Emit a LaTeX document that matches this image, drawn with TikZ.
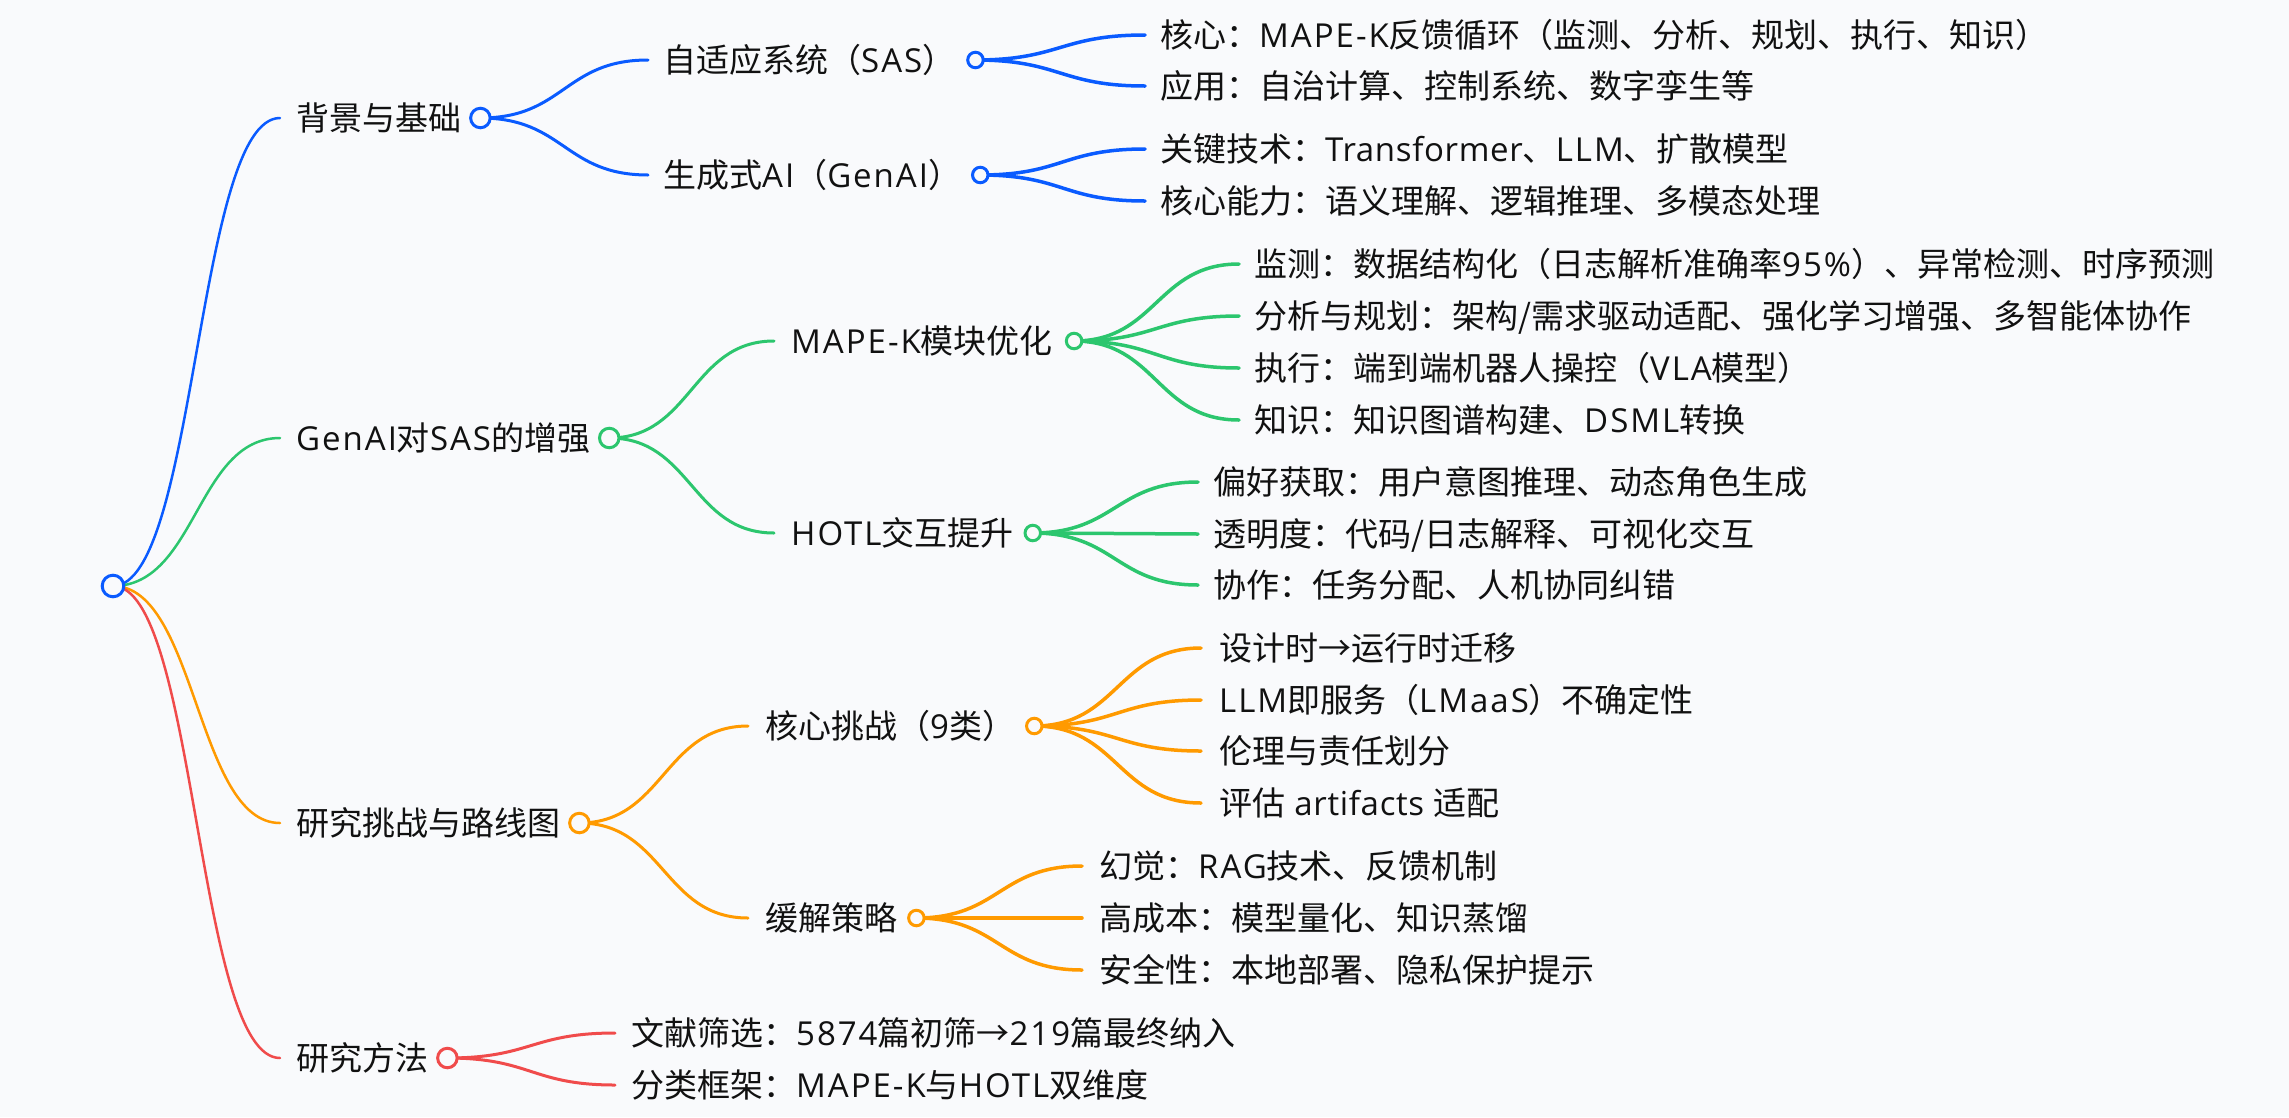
\documentclass[tikz,border=0pt]{standalone}
\usepackage{fontspec}
\setmainfont{Noto Sans CJK SC}
\newfontfamily\latfont[Scale=1.0,LetterSpace=6.0]{Open Sans}
\newfontfamily\latlfont[Scale=1.0,LetterSpace=2.0]{Open Sans}
\newcommand\lat[1]{{\latfont #1}}
\newcommand\latl[1]{{\latlfont #1}}
\usetikzlibrary{calc}
\pgfdeclarelayer{bglayer}
\pgfdeclarelayer{linklayer}
\pgfsetlayers{bglayer,linklayer,main}
\definecolor{bgc}{HTML}{F9FAFC}
\definecolor{cblue}{HTML}{0A5BFF}
\definecolor{cgreen}{HTML}{2CC66E}
\definecolor{corange}{HTML}{FF9A00}
\definecolor{cred}{HTML}{F04B4B}
\definecolor{ctext}{HTML}{111111}
\tikzset{
  txt/.style={anchor=west, inner sep=0pt, text=ctext, font=\fontsize{33}{40}\selectfont, text height=29pt, text depth=4pt},
  dotroot/.style={circle, line width=3pt, fill=bgc, inner sep=0pt, minimum size=21.6pt},
  dotone/.style={circle, line width=3pt, fill=bgc, inner sep=0pt, minimum size=19.5pt},
  dottwo/.style={circle, line width=3pt, fill=bgc, inner sep=0pt, minimum size=15.5pt},
  lkone/.style={line width=2.5pt, line cap=round},
  lktwo/.style={line width=3pt, line cap=round},
  lkthree/.style={line width=3.5pt, line cap=round},
}
\newcommand\mmlink[3]{\draw[#1] let \p1=(#2), \p2=(#3) in (\p1) .. controls ({0.5*\x1+0.5*\x2},\y1) and ({0.5*\x1+0.5*\x2},\y2) .. (\p2);}
\begin{document}
\begin{tikzpicture}[x=1pt,y=-1pt]
\begin{pgfonlayer}{bglayer}
\fill[bgc] (0,0) rectangle (2289,1117);
\end{pgfonlayer}
\useasboundingbox (0,0) rectangle (2289,1117);

% root
\node[dotroot, draw=cblue] (R) at (113,586) {};

% level 1
\node[txt] (A) at (296,118) {背景与基础};
\node[dotone, draw=cblue] (Ac) at ([xshift=19pt]A.east) {};
\coordinate (Ae) at ([xshift=-16pt]A.west);
\node[txt] (B) at (296,438) {\lat{GenAI}对\lat{SAS}的增强};
\node[dotone, draw=cgreen] (Bc) at ([xshift=19pt]B.east) {};
\coordinate (Be) at ([xshift=-16pt]B.west);
\node[txt] (C) at (296,823) {研究挑战与路线图};
\node[dotone, draw=corange] (Cc) at ([xshift=19pt]C.east) {};
\coordinate (Ce) at ([xshift=-16pt]C.west);
\node[txt] (D) at (296,1058) {研究方法};
\node[dotone, draw=cred] (Dc) at ([xshift=19pt]D.east) {};
\coordinate (De) at ([xshift=-16pt]D.west);

% level 2
\node[txt] (A1) at (663,60) {自适应系统（\lat{SAS}）};
\node[dottwo, draw=cblue] (A1c) at ([xshift=20pt]A1.east) {};
\coordinate (A1e) at ([xshift=-15pt]A1.west);
\node[txt] (A2) at (663,175) {生成式\lat{AI}（\lat{GenAI}）};
\node[dottwo, draw=cblue] (A2c) at ([xshift=19pt]A2.east) {};
\coordinate (A2e) at ([xshift=-15pt]A2.west);

\node[txt] (B1) at (791,341) {\lat{MAPE-K}模块优化};
\node[dottwo, draw=cgreen] (B1c) at ([xshift=21pt]B1.east) {};
\coordinate (B1e) at ([xshift=-17pt]B1.west);
\node[txt] (B2) at (791,533) {\lat{HOTL}交互提升};
\node[dottwo, draw=cgreen] (B2c) at ([xshift=19pt]B2.east) {};
\coordinate (B2e) at ([xshift=-17pt]B2.west);

\node[txt] (C1) at (765,726) {核心挑战（\lat{9}类）};
\node[dottwo, draw=corange] (C1c) at ([xshift=19pt]C1.east) {};
\coordinate (C1e) at ([xshift=-17pt]C1.west);
\node[txt] (C2) at (765,918) {缓解策略};
\node[dottwo, draw=corange] (C2c) at ([xshift=19pt]C2.east) {};
\coordinate (C2e) at ([xshift=-17pt]C2.west);

\node[txt] (D1) at (631,1033) {文献筛选：\lat{5874}篇初筛→\lat{219}篇最终纳入};
\coordinate (D1e) at ([xshift=-16pt]D1.west);
\node[txt] (D2) at (631,1085) {分类框架：\lat{MAPE-K}与\lat{HOTL}双维度};
\coordinate (D2e) at ([xshift=-16pt]D2.west);

% level 3
\node[txt] (A1a) at (1160,35) {核心：\lat{MAPE-K}反馈循环（监测、分析、规划、执行、知识）};
\coordinate (A1ae) at ([xshift=-15pt]A1a.west);
\node[txt] (A1b) at (1160,86) {应用：自治计算、控制系统、数字孪生等};
\coordinate (A1be) at ([xshift=-15pt]A1b.west);
\node[txt] (A2a) at (1160,149) {关键技术：\latl{Transformer}、\lat{LLM}、扩散模型};
\coordinate (A2ae) at ([xshift=-15pt]A2a.west);
\node[txt] (A2b) at (1160,201) {核心能力：语义理解、逻辑推理、多模态处理};
\coordinate (A2be) at ([xshift=-15pt]A2b.west);

\node[txt] (B1a) at (1254,264) {监测：数据结构化（日志解析准确率\lat{95\%}）、异常检测、时序预测};
\coordinate (B1ae) at ([xshift=-15pt]B1a.west);
\node[txt] (B1b) at (1254,316) {分析与规划：架构/需求驱动适配、强化学习增强、多智能体协作};
\coordinate (B1be) at ([xshift=-15pt]B1b.west);
\node[txt] (B1cc) at (1254,368) {执行：端到端机器人操控（\lat{VLA}模型）};
\coordinate (B1ce) at ([xshift=-15pt]B1cc.west);
\node[txt] (B1d) at (1254,420) {知识：知识图谱构建、\lat{DSML}转换};
\coordinate (B1de) at ([xshift=-15pt]B1d.west);

\node[txt] (B2a) at (1213,482) {偏好获取：用户意图推理、动态角色生成};
\coordinate (B2ae) at ([xshift=-15pt]B2a.west);
\node[txt] (B2b) at (1213,534) {透明度：代码/日志解释、可视化交互};
\coordinate (B2be) at ([xshift=-15pt]B2b.west);
\node[txt] (B2cc) at (1213,585) {协作：任务分配、人机协同纠错};
\coordinate (B2ce) at ([xshift=-15pt]B2cc.west);

\node[txt] (C1a) at (1219,648) {设计时→运行时迁移};
\coordinate (C1ae) at ([xshift=-18pt]C1a.west);
\node[txt] (C1b) at (1219,700) {\lat{LLM}即服务（\lat{LMaaS}）不确定性};
\coordinate (C1be) at ([xshift=-18pt]C1b.west);
\node[txt] (C1cc) at (1219,751) {伦理与责任划分};
\coordinate (C1ce) at ([xshift=-18pt]C1cc.west);
\node[txt] (C1d) at (1219,803) {评估\latl{ artifacts }适配};
\coordinate (C1de) at ([xshift=-18pt]C1d.west);

\node[txt] (C2a) at (1099,866) {幻觉：\lat{RAG}技术、反馈机制};
\coordinate (C2ae) at ([xshift=-17pt]C2a.west);
\node[txt] (C2b) at (1099,918) {高成本：模型量化、知识蒸馏};
\coordinate (C2be) at ([xshift=-17pt]C2b.west);
\node[txt] (C2cc) at (1099,970) {安全性：本地部署、隐私保护提示};
\coordinate (C2ce) at ([xshift=-17pt]C2cc.west);

\begin{pgfonlayer}{linklayer}
\mmlink{cblue,lkone}{R.center}{Ae}
\mmlink{cgreen,lkone}{R.center}{Be}
\mmlink{corange,lkone}{R.center}{Ce}
\mmlink{cred,lkone}{R.center}{De}

\mmlink{cblue,lktwo}{Ac.center}{A1e}
\mmlink{cblue,lktwo}{Ac.center}{A2e}
\mmlink{cgreen,lktwo}{Bc.center}{B1e}
\mmlink{cgreen,lktwo}{Bc.center}{B2e}
\mmlink{corange,lktwo}{Cc.center}{C1e}
\mmlink{corange,lktwo}{Cc.center}{C2e}
\mmlink{cred,lktwo}{Dc.center}{D1e}
\mmlink{cred,lktwo}{Dc.center}{D2e}

\mmlink{cblue,lkthree}{A1c.center}{A1ae}
\mmlink{cblue,lkthree}{A1c.center}{A1be}
\mmlink{cblue,lkthree}{A2c.center}{A2ae}
\mmlink{cblue,lkthree}{A2c.center}{A2be}

\mmlink{cgreen,lkthree}{B1c.center}{B1ae}
\mmlink{cgreen,lkthree}{B1c.center}{B1be}
\mmlink{cgreen,lkthree}{B1c.center}{B1ce}
\mmlink{cgreen,lkthree}{B1c.center}{B1de}
\mmlink{cgreen,lkthree}{B2c.center}{B2ae}
\mmlink{cgreen,lkthree}{B2c.center}{B2be}
\mmlink{cgreen,lkthree}{B2c.center}{B2ce}

\mmlink{corange,lkthree}{C1c.center}{C1ae}
\mmlink{corange,lkthree}{C1c.center}{C1be}
\mmlink{corange,lkthree}{C1c.center}{C1ce}
\mmlink{corange,lkthree}{C1c.center}{C1de}
\mmlink{corange,lkthree}{C2c.center}{C2ae}
\mmlink{corange,lkthree}{C2c.center}{C2be}
\mmlink{corange,lkthree}{C2c.center}{C2ce}
\end{pgfonlayer}
\end{tikzpicture}
\end{document}
